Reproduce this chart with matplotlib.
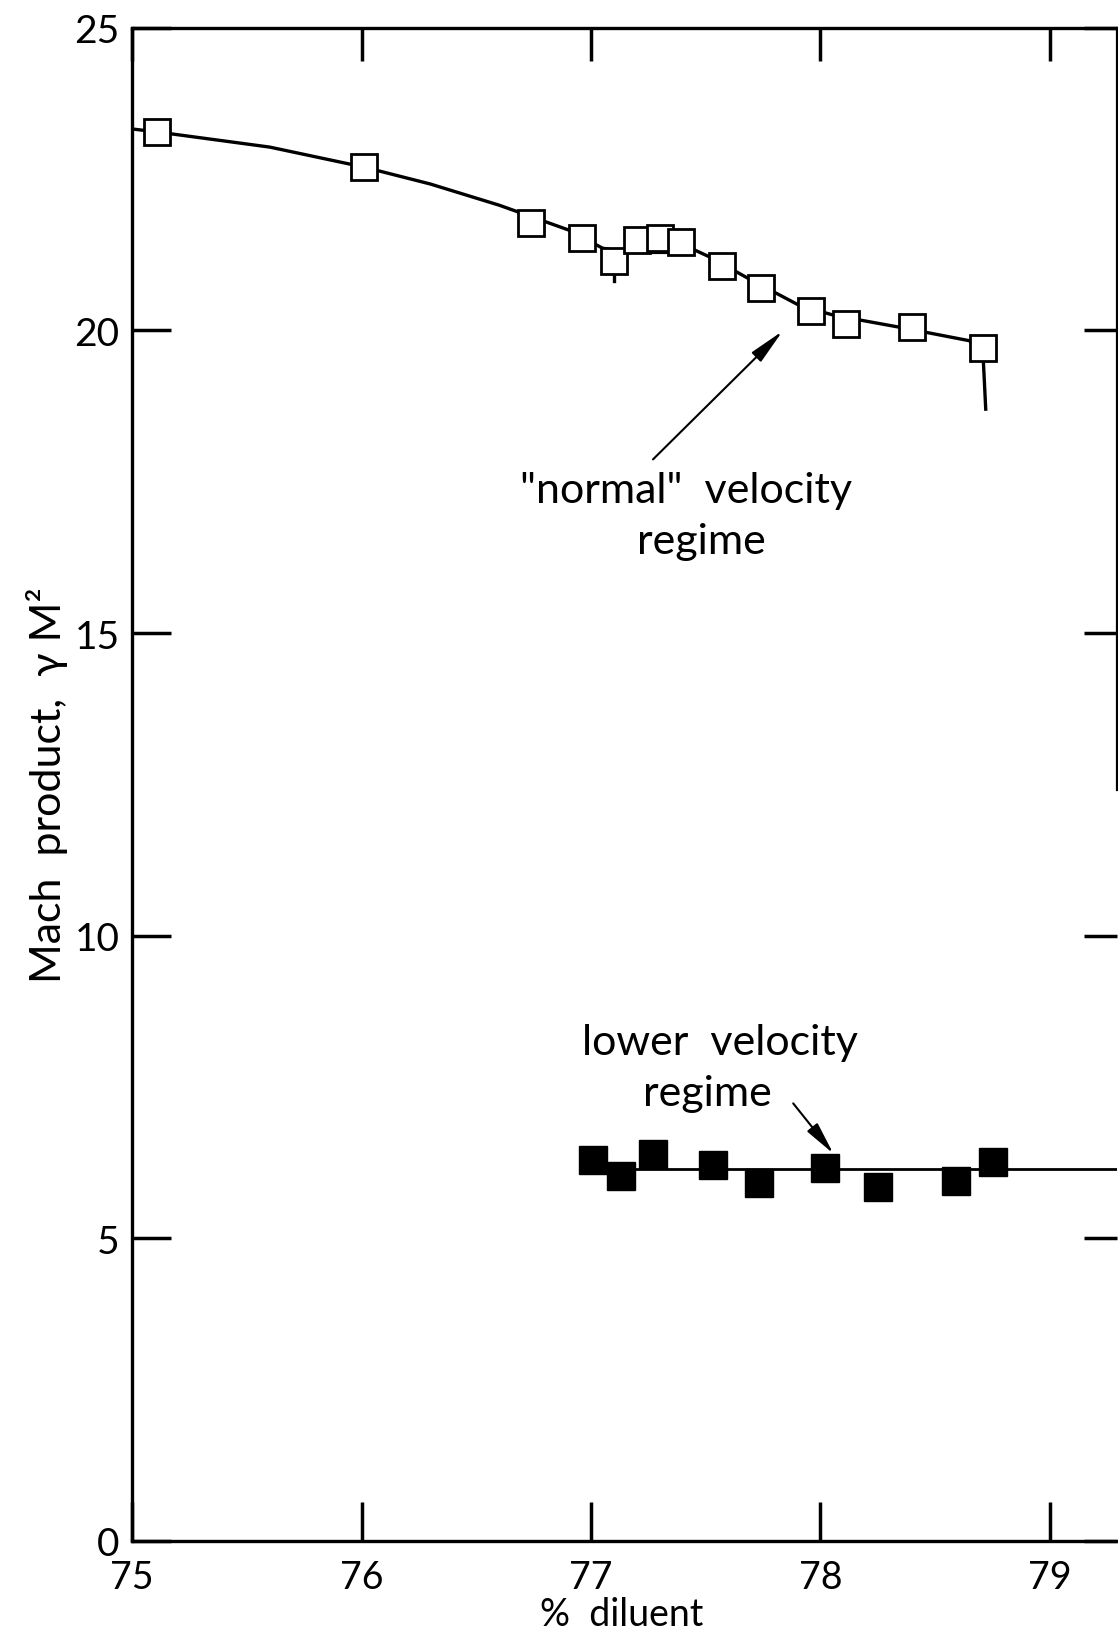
import matplotlib
matplotlib.use("Agg")
import matplotlib.pyplot as plt

plt.rcParams['font.family'] = ['Lato', 'DejaVu Sans']
plt.rcParams['font.weight'] = 'normal'
plt.rcParams['axes.labelweight'] = 'normal'

# "normal" velocity regime (open squares)
normal_x = [75.11, 76.01, 76.74, 76.96, 77.10, 77.20, 77.30, 77.39, 77.57, 77.74, 77.96, 78.11, 78.40, 78.71]
normal_y = [23.28, 22.70, 21.78, 21.53, 21.14, 21.50, 21.53, 21.47, 21.06, 20.70, 20.33, 20.11, 20.05, 19.71]

# hand drawn curve through the open squares
curve_x = [75.0, 75.11, 75.6, 76.01, 76.30, 76.60, 76.91, 77.05, 77.16, 77.34, 77.44, 77.52,
           77.69, 77.91, 78.06, 78.35, 78.65, 78.71, 78.72]
curve_y = [23.33, 23.28, 23.03, 22.70, 22.42, 22.07, 21.65, 21.36, 21.29, 21.29, 21.35, 21.21,
           20.85, 20.41, 20.25, 20.05, 19.83, 19.47, 18.70]
stub_x = [77.10, 77.10]
stub_y = [21.0, 20.82]

# lower velocity regime (filled squares)
lower_x = [77.01, 77.13, 77.27, 77.53, 77.73, 78.02, 78.25, 78.59, 78.75]
lower_y = [6.30, 6.03, 6.40, 6.21, 5.91, 6.16, 5.85, 5.95, 6.26]
lower_line_x = [77.01, 79.292]
lower_line_y = [6.14, 6.14]

x_ticks = [75, 76, 77, 78, 79]
y_ticks = [0, 5, 10, 15, 20, 25]

fig = plt.figure(figsize=(11.18, 16.31), dpi=100)
ax = fig.add_axes([0.1181, 0.0546, 0.8810, 0.9277])

ax.plot(curve_x, curve_y, color='black', lw=2.4, zorder=2)
ax.plot(stub_x, stub_y, color='black', lw=2.4, zorder=2)
ax.plot(normal_x, normal_y, ls='none', marker='s', ms=19, mfc='white', mec='black', mew=2.0, zorder=3)

ax.plot(lower_line_x, lower_line_y, color='black', lw=2.0, zorder=2)
ax.plot(lower_x, lower_y, ls='none', marker='s', ms=20.5, color='black', zorder=3)

# labels de las regiones
ax.text(77.414, 17.16, '"normal"  velocity', ha='center', va='baseline', fontsize=31)
ax.text(77.48, 16.33, 'regime', ha='center', va='baseline', fontsize=31)
ax.annotate('', xy=(77.835, 19.99), xytext=(77.27, 17.87),
            arrowprops=dict(arrowstyle='-|>, head_length=1.1, head_width=0.2', lw=1.5,
                            color='black', shrinkA=0, shrinkB=0, mutation_scale=20))

ax.text(77.562, 8.05, 'lower  velocity', ha='center', va='baseline', fontsize=31)
ax.text(77.507, 7.20, 'regime', ha='center', va='baseline', fontsize=31)
ax.annotate('', xy=(78.056, 6.40), xytext=(77.881, 7.23),
            arrowprops=dict(arrowstyle='-|>, head_length=1.0, head_width=0.2', lw=1.5,
                            color='black', shrinkA=0, shrinkB=0, mutation_scale=20))

ax.set_xlim(75, 79.292)
ax.set_ylim(0, 25)
ax.set_xticks(x_ticks)
ax.set_yticks(y_ticks)
ax.tick_params(direction='in', length=28, width=2.5, top=True, right=True)
ax.tick_params(axis='x', pad=13, labelsize=27)
ax.tick_params(axis='y', pad=9, labelsize=28)
for t in ax.xaxis.get_major_ticks():
    t.tick2line.set_markersize(24)
for t in ax.yaxis.get_major_ticks():
    t.tick2line.set_markersize(24)

for s in ['left', 'bottom', 'top']:
    ax.spines[s].set_linewidth(2.4)
ax.spines['right'].set_linewidth(1.6)
ax.spines['right'].set_bounds(12.4, 25)

ax.set_ylabel('Mach  product,  γ M²', fontsize=31)
ax.yaxis.set_label_coords(-0.065, 0.5)
ax.set_xlabel('%  diluent', fontsize=27)
ax.xaxis.label.set_va('baseline')
ax.xaxis.set_label_coords(0.497, -0.0555)

fig.savefig('out.png', dpi=100)
